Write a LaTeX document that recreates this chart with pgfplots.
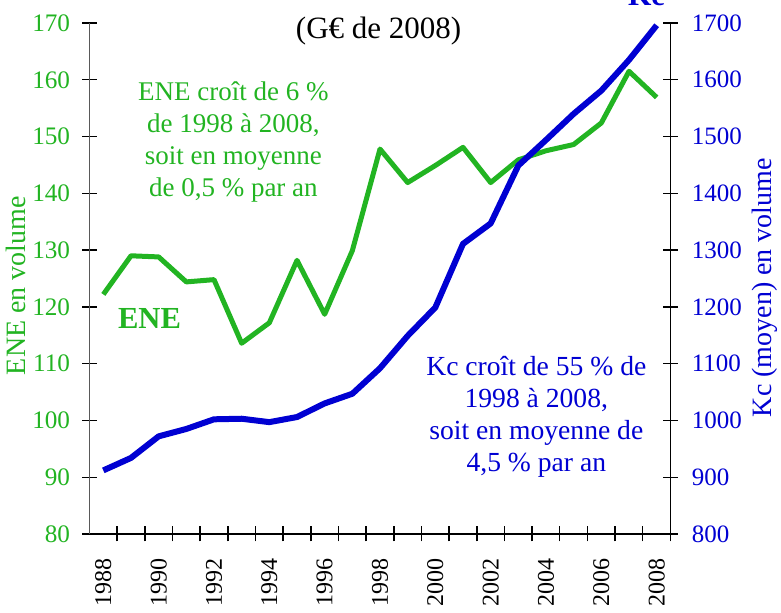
\documentclass[border=0pt]{standalone}
\usepackage{fontspec}
\setmainfont{Liberation Serif}
\usepackage{pgfplots}
\pgfplotsset{compat=1.18}
\definecolor{eneg}{RGB}{34,180,34}
\definecolor{kcb}{RGB}{0,0,210}

\pgfplotstableread{
year ene kc
1988 122.2 912
1989 129.0 934
1990 128.8 972
1991 124.4 985
1992 124.8 1002
1993 113.6 1003
1994 117.2 997
1995 128.2 1006
1996 118.7 1030
1997 129.9 1047
1998 147.8 1092
1999 141.9 1149
2000 144.9 1199
2001 148.1 1311
2002 141.9 1347
2003 145.9 1449
2004 147.5 1494
2005 148.6 1540
2006 152.4 1581
2007 161.5 1635
2008 156.9 1696
}\datatable

\begin{document}
\begin{tikzpicture}
\useasboundingbox (-44.75pt,-39.5pt) rectangle (345.75pt,267pt);
\pgfplotsset{
  common/.style={
    at={(0,0)}, anchor=south west, scale only axis,
    width=290.5pt, height=255.5pt,
    xmin=1987.5, xmax=2008.5,
    tick align=center,
    major tick length=0pt, minor tick length=7.5pt,
    /pgf/number format/assume math mode=true,
    /pgf/number format/1000 sep={},
    clip=false,
  }
}
\begin{axis}[common,
  ymin=80, ymax=170,
  axis x line*=bottom, axis y line*=left,
  x axis line style={black, line width=0.7pt, -},
  y axis line style={black!65, line width=0.7pt, -},
  xtick={1988,1990,...,2008},
  minor xtick={1988.5,1989.5,...,2008.5},
  ytick={80,90,...,170},
  minor ytick={80,90,...,170},
  every minor tick/.style={black, line width=0.7pt},
  xticklabel style={rotate=90, anchor=east, inner sep=0pt, font=\fontsize{12}{14}\selectfont},
  xticklabel shift=12pt,
  yticklabel style={inner sep=0pt, text=eneg, font=\fontsize{12.6}{15}\selectfont},
  yticklabel shift=9.5pt,
  ylabel={ENE en volume},
  ylabel style={at={(axis description cs:-0.127,0.486)}, anchor=center, text=eneg, font=\fontsize{14}{16}\selectfont},
]
\addplot[eneg, line width=2.5pt, line join=round] table[x=year, y=ene] {\datatable};
\node[anchor=base, font=\fontsize{15.5}{18}\selectfont] at (axis cs:1997.95,167.2) {(G€ de 2008)};
\node[align=center, text=eneg, font=\fontsize{13.5}{16}\selectfont] at (axis cs:1992.7,149.1)
  {ENE croît de 6 \%\\de 1998 à 2008,\\soit en moyenne\\de 0,5 \% par an};
\node[text=eneg, font=\bfseries\fontsize{15.3}{18}\selectfont] at (axis cs:1989.67,117.9) {ENE};
\end{axis}
\begin{axis}[common,
  ymin=800, ymax=1700,
  axis x line=none, axis y line*=right,
  y axis line style={black, line width=0.7pt, -},
  ytick={800,900,...,1700},
  minor ytick={800,900,...,1700},
  every minor tick/.style={black, line width=0.7pt},
  yticklabel style={inner sep=0pt, text=kcb, font=\fontsize{12.5}{15}\selectfont},
  yticklabel shift=10.5pt,
  ylabel={Kc (moyen) en volume},
  ylabel style={at={(axis description cs:1.162,0.482)}, anchor=center, rotate=0, text=kcb, font=\fontsize{14}{16}\selectfont},
]
\addplot[kcb, line width=3pt, line join=round] table[x=year, y=kc] {\datatable};
\node[align=center, text=kcb, font=\fontsize{13.8}{16}\selectfont] at (axis cs:2003.65,1006)
  {Kc croît de 55 \% de\\1998 à 2008,\\soit en moyenne de\\4,5 \% par an};
\node[anchor=base, text=kcb, font=\bfseries\fontsize{15}{18}\selectfont] at (axis cs:2007.63,1731) {Kc};
\end{axis}
\end{tikzpicture}
\end{document}
